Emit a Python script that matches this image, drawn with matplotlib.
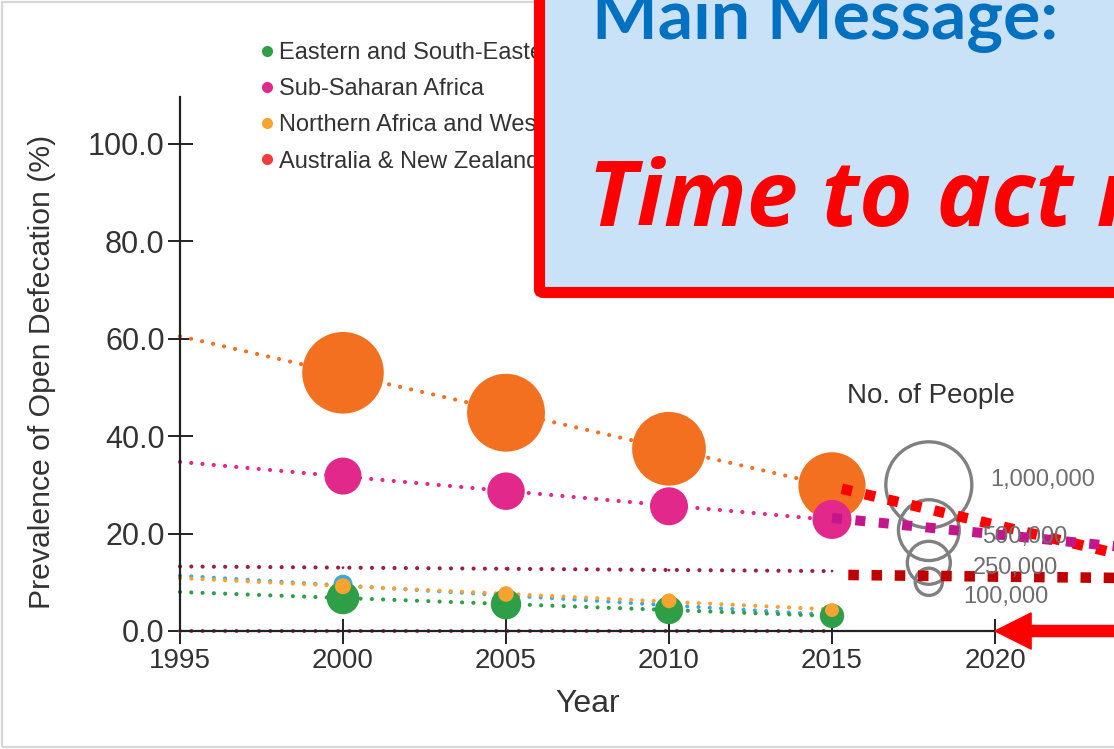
import numpy as np
import matplotlib
matplotlib.use("Agg")
import matplotlib.pyplot as plt
from matplotlib.lines import Line2D
from matplotlib.patches import FancyBboxPatch, Rectangle

plt.rcParams['font.family'] = ['Liberation Sans', 'DejaVu Sans']

W, H = 1114, 749

# open defecation prevalence (%) and people practising it (thousands)
years = [2000, 2005, 2010, 2015]

csa_pct = [53.0, 44.8, 37.4, 29.8]
csa_people = [900000, 820000, 735000, 610000]

ssa_pct = [31.8, 28.7, 25.6, 22.9]
ssa_people = [185000, 190000, 195000, 206000]

lac_pct = [9.6, 7.0, 5.1, 3.5]
lac_people = [49000, 35000, 26000, 19000]

nawa_pct = [9.2, 7.6, 6.2, 4.3]
nawa_people = [35000, 33000, 30000, 26000]

esea_pct = [6.8, 5.5, 4.3, 3.1]
esea_people = [145000, 125000, 108000, 80000]

oce_pct = [13.0, 12.8, 12.5, 12.3]
oce_people = [1000, 1000, 1000, 1000]

anz_pct = [0.0, 0.0, 0.0, 0.0]
anz_people = [0, 0, 0, 0]

# projections past 2015
proj_csa_x = [2015.3, 2025]
proj_csa_y = [29.2, 13.9]
proj_ssa_x = [2015.0, 2025]
proj_ssa_y = [23.2, 16.5]
proj_oce_x = [2015.5, 2025]
proj_oce_y = [11.5, 10.8]

legend_names = ['Eastern and South-Eastern Asia', 'Sub-Saharan Africa',
                'Northern Africa and Western Asia', 'Australia & New Zealand']
legend_colors = ['#2E9E47', '#E2288A', '#F7A330', '#F03C3C']

size_levels = [1000000, 500000, 250000, 100000]
size_labels = ['1,000,000', '500,000', '250,000', '100,000']

# marker area (points^2) per thousand people
AREA = 3833.0 / 1000000


def fx(x):
    return x / W


def fy(y):
    return 1 - y / H


fig = plt.figure(figsize=(W / 100, H / 100), dpi=100)
ax = fig.add_axes([fx(180), fy(631), (995 - 180) / W, (631 - 97) / H])

series = [
    (oce_pct, oce_people, '#9B2046'),
    (anz_pct, anz_people, '#B83A5A'),
    (csa_pct, csa_people, '#F37021'),
    (ssa_pct, ssa_people, '#E2288A'),
    (lac_pct, lac_people, '#3AA8E0'),
    (esea_pct, esea_people, '#2E9E47'),
    (nawa_pct, nawa_people, '#F7A330'),
]

trend_x = np.array([1995, 2015])
for pct, people, col in series:
    k, b = np.polyfit(years, pct, 1)
    ax.plot(trend_x, k * trend_x + b, color=col, lw=3.0,
            linestyle=(0, (0.01, 2.7)), dash_capstyle='round', zorder=2,
            clip_on=False)

for pct, people, col in series:
    ax.scatter(years, pct, s=np.array(people) * AREA, color=col,
               edgecolors='none', zorder=3, clip_on=False)

# projections
ax.plot(proj_oce_x, proj_oce_y, color='#C00000', lw=7.6,
        linestyle=(0, (1.0, 1.2)), dash_capstyle='butt', zorder=4, clip_on=False)
ax.plot(proj_csa_x, proj_csa_y, color='#FF0000', lw=7.6,
        linestyle=(0, (1.0, 1.25)), dash_capstyle='butt', zorder=4, clip_on=False)
ax.plot(proj_ssa_x, proj_ssa_y, color='#C4168C', lw=7.2,
        linestyle=(0, (1.0, 1.35)), dash_capstyle='butt', zorder=4, clip_on=False)

# bubble size key
key_x = 2017.97
key_y = [30.0, 20.7, 14.0, 10.1]
ax.scatter([key_x] * 4, key_y, s=np.array(size_levels) * AREA,
           facecolors='none', edgecolors='#808080', linewidths=2.4, zorder=3,
           clip_on=False)
fig.text(fx(931), fy(396), 'No. of People', ha='center', va='center',
         fontsize=20, color='#333333')
for lab, xp, yp in zip(size_labels, [990, 982, 973, 963], [480, 537, 568, 597]):
    fig.text(fx(xp), fy(yp), lab, ha='left', va='center', fontsize=17,
             color='#6E6E6E')

ax.set_xlim(1995, 2020)
ax.set_ylim(0, 109.6)
ax.set_xticks([1995, 2000, 2005, 2010, 2015, 2020])
ax.set_yticks([0, 20, 40, 60, 80, 100])
ax.set_yticklabels(['%.1f' % v for v in [0, 20, 40, 60, 80, 100]])
ax.tick_params(direction='inout', length=18, width=1.4, labelsize=20,
               labelcolor='#333333', color='#222222')
ax.tick_params(axis='x', pad=3)
ax.tick_params(axis='y', pad=2, labelsize=22)
for side in ['top', 'right']:
    ax.spines[side].set_visible(False)
for side in ['left', 'bottom']:
    ax.spines[side].set_linewidth(1.6)
    ax.spines[side].set_color('#222222')
ax.set_xlabel('Year', fontsize=23, color='#333333', va='top')
ax.set_ylabel('Prevalence of Open Defecation (%)', fontsize=21.7,
              color='#333333')
ax.xaxis.set_label_coords(0.5, -0.108)
ax.yaxis.set_label_coords(-0.152, 0.485)
ax.patch.set_visible(False)

handles = [Line2D([], [], marker='o', linestyle='none', markersize=8,
                  markerfacecolor=c, markeredgecolor='none')
           for c in legend_colors]
leg = ax.legend(handles, legend_names, loc='upper left',
                bbox_to_anchor=(fx(261), fy(42)), bbox_transform=fig.transFigure,
                frameon=False, fontsize=17, handlelength=0.5, handletextpad=0.25,
                labelspacing=0.6, borderpad=0, borderaxespad=0)
for t in leg.get_texts():
    t.set_color('#333333')

# message box
box = FancyBboxPatch((fx(539.5), fy(292.5)), fx(700), 350 / H,
                     boxstyle='round,pad=0,rounding_size=0.004',
                     transform=fig.transFigure, facecolor='#C9E2F8',
                     edgecolor='#FF0000', linewidth=8.0, zorder=10)
fig.patches.append(box)
fig.text(fx(592), fy(39), 'Main Message:', fontsize=50, fontweight='bold',
         color='#0070C0', family=['Lato', 'DejaVu Sans'], ha='left',
         va='baseline', zorder=11)
fig.text(fx(588), fy(226), 'Time to act now', fontsize=66, fontweight='bold',
         style='italic', color='#FF0000', family=['Open Sans', 'DejaVu Sans'],
         ha='left', va='baseline', zorder=11)

# arrow towards 2020
ax.annotate('', xy=(2020, 0), xytext=(2026, 0),
            arrowprops=dict(arrowstyle='simple,head_length=26,head_width=26,tail_width=8',
                            mutation_scale=1, color='#FF0000', shrinkA=0, shrinkB=0),
            annotation_clip=False, zorder=12)

# light outer frame
fig.patches.append(Rectangle((fx(2), fy(747)), fx(1200), 745 / H, fill=False,
                             edgecolor='#D6D6D6', linewidth=1.6,
                             transform=fig.transFigure, zorder=0))

fig.savefig('out.png', dpi=100)
